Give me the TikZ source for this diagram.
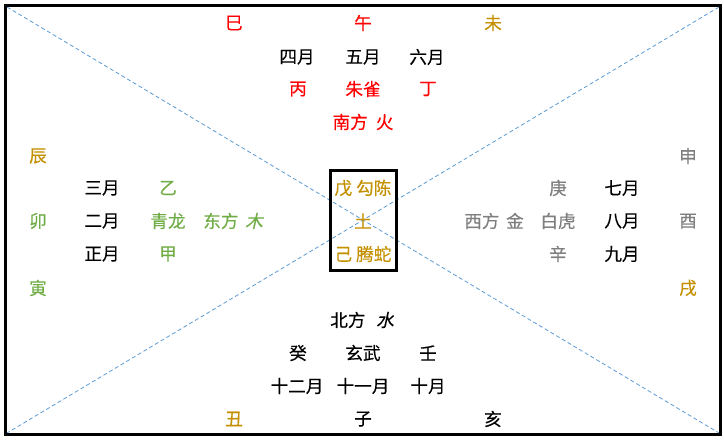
\documentclass[tikz,border=0pt]{standalone}
\usepackage{fontspec}
\setmainfont{Noto Sans CJK SC}[FakeBold=0.3]
\newfontfamily\cjkslant{Noto Sans CJK SC}[FakeSlant=0.22, FakeBold=0.3]
\usepackage{tikz}
\usetikzlibrary{positioning}
\definecolor{ZhiRed}{HTML}{FF0000}
\definecolor{ZhiGold}{HTML}{C49000}
\definecolor{ZhiGreen}{HTML}{70AD47}
\definecolor{ZhiGray}{HTML}{7F7F7F}
\definecolor{ZhiBlue}{HTML}{5B9BD5}
\definecolor{ZhiInk}{HTML}{000000}
\tikzset{
  glyph/.style={font=\fontsize{13.2}{15}\selectfont, inner sep=0pt, text=ZhiInk},
  firetext/.style={glyph, text=ZhiRed},
  earthtext/.style={glyph, text=ZhiGold},
  woodtext/.style={glyph, text=ZhiGreen},
  metaltext/.style={glyph, text=ZhiGray},
  monthtext/.style={glyph, text=ZhiInk},
  frameline/.style={draw=black, line width=2.25pt},
  diagline/.style={draw=ZhiBlue, line width=0.6pt, dash pattern=on 3pt off 2pt}
}

\begin{document}
\begin{tikzpicture}[x=0.75pt, y=-0.75pt]
\useasboundingbox (0,0) rectangle (724,439);
% frame and diagonals
\coordinate (nw) at (7,7);
\coordinate (ne) at (719,7);
\coordinate (sw) at (7,433);
\coordinate (se) at (719,433);
\draw[diagline] (nw) -- (se);
\draw[diagline] (ne) -- (sw);
\draw[frameline] (5.5,5.5) rectangle (720.5,434.5);
% centre: earth
\node[draw=black, line width=2.25pt, minimum width=49.5pt, minimum height=75pt] (centre) at (363,220) {};
\node[earthtext] (wuji) at (363,188) {戊\hspace{3pt}勾陈};
\node[earthtext] (tu) at (363,221) {土};
\node[earthtext] (jiji) at (363,254) {己\hspace{3pt}腾蛇};
% south: fire
\node[firetext] (si) at (234,23) {巳};
\node[firetext] (wu) at (363,23) {午};
\node[earthtext] (wei) at (493,23) {未};
\node[monthtext] (m4) at (297,57) {四月};
\node[monthtext] (m5) at (363,57) {五月};
\node[monthtext] (m6) at (427,57) {六月};
\node[firetext] (bing) at (298,89) {丙};
\node[firetext] (zhuque) at (363,89) {朱雀};
\node[firetext] (ding) at (428,89) {丁};
\node[firetext] (south) at (363,122) {南方\hspace{6pt}火};
% east: wood
\node[earthtext] (chen) at (38,156) {辰};
\node[woodtext] (mao) at (38,221) {卯};
\node[woodtext] (yin) at (38,288) {寅};
\node[monthtext] (m3) at (102,188) {三月};
\node[monthtext] (m2) at (102,221) {二月};
\node[monthtext] (m1) at (102,254) {正月};
\node[woodtext] (yi) at (168,188) {乙};
\node[woodtext] (qinglong) at (168,221) {青龙};
\node[woodtext] (jia) at (168,254) {甲};
\node[woodtext] (east) at (233,221) {东方\hspace{5pt}{\cjkslant 木}};
% west: metal
\node[metaltext] (shen) at (688,156) {申};
\node[metaltext] (you) at (688,221) {酉};
\node[earthtext] (xu) at (688,288) {戌};
\node[monthtext] (m7) at (622,188) {七月};
\node[monthtext] (m8) at (622,221) {八月};
\node[monthtext] (m9) at (622,254) {九月};
\node[metaltext] (geng) at (558,188) {庚};
\node[metaltext] (baihu) at (558,221) {白虎};
\node[metaltext] (xin) at (558,254) {辛};
\node[metaltext] (west) at (494,221) {西方\hspace{5pt}金};
% north: water
\node[monthtext] (north) at (362,320) {北方\hspace{8pt}{\cjkslant 水}};
\node[monthtext] (gui) at (298,353) {癸};
\node[monthtext] (xuanwu) at (363,353) {玄武};
\node[monthtext] (ren) at (428,353) {壬};
\node[monthtext] (m12) at (297,386) {十二月};
\node[monthtext] (m11) at (363,386) {十一月};
\node[monthtext] (m10) at (428,386) {十月};
\node[earthtext] (chou) at (234,419) {丑};
\node[monthtext] (zi) at (363,419) {子};
\node[monthtext] (hai) at (493,419) {亥};
\end{tikzpicture}
\end{document}
